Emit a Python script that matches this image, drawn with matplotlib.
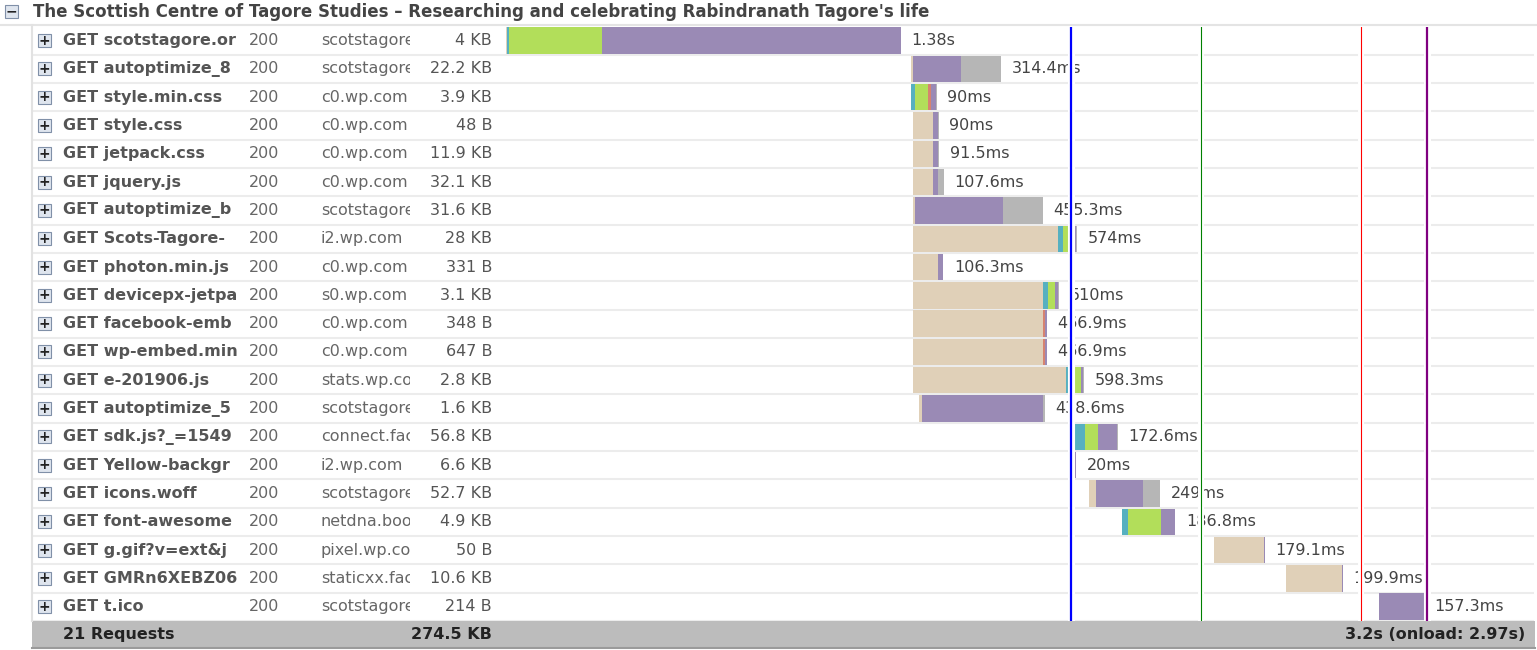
import numpy as np
import matplotlib.pyplot as plt
from matplotlib.patches import Rectangle
from matplotlib.transforms import Bbox, TransformedBbox

# --- data ---------------------------------------------------------------
title = "The Scottish Centre of Tagore Studies – Researching and celebrating Rabindranath Tagore's life"

# names and domains as far as the table columns show them
names = ["GET scotstagore.or", "GET autoptimize_8", "GET style.min.css", "GET style.css",
         "GET jetpack.css", "GET jquery.js", "GET autoptimize_b", "GET Scots-Tagore-",
         "GET photon.min.js", "GET devicepx-jetpa", "GET facebook-emb",
         "GET wp-embed.min", "GET e-201906.js", "GET autoptimize_5", "GET sdk.js?_=1549",
         "GET Yellow-backgr", "GET icons.woff", "GET font-awesome",
         "GET g.gif?v=ext&j", "GET GMRn6XEBZ06", "GET t.ico"]
statuses = ["200"] * 21
domains = ["scotstagore", "scotstagore", "c0.wp.com", "c0.wp.com", "c0.wp.com",
           "c0.wp.com", "scotstagore", "i2.wp.com", "c0.wp.com", "s0.wp.com",
           "c0.wp.com", "c0.wp.com", "stats.wp.com", "scotstagore",
           "connect.fac", "i2.wp.com", "scotstagore",
           "netdna.boot", "pixel.wp.com", "staticxx.fac",
           "scotstagore"]
sizes = ["4 KB", "22.2 KB", "3.9 KB", "48 B", "11.9 KB", "32.1 KB", "31.6 KB", "28 KB",
         "331 B", "3.1 KB", "348 B", "647 B", "2.8 KB", "1.6 KB", "56.8 KB", "6.6 KB",
         "52.7 KB", "4.9 KB", "50 B", "10.6 KB", "214 B"]
totals = ["1.38s", "314.4ms", "90ms", "90ms", "91.5ms", "107.6ms", "455.3ms", "574ms",
          "106.3ms", "510ms", "466.9ms", "466.9ms", "598.3ms", "438.6ms", "172.6ms",
          "20ms", "249ms", "186.8ms", "179.1ms", "199.9ms", "157.3ms"]

# timings in ms
start_ms = [0, 1416, 1415, 1422, 1422, 1422, 1422, 1422, 1422, 1422, 1422, 1422, 1422,
            1443, 1988, 1988, 2037, 2152, 2474, 2725, 3050]
blocked = [3, 5, 0, 70, 70, 70, 6, 507, 87, 454, 454, 454, 535, 10, 0, 0, 24, 0, 176, 196, 0]
dns = [7, 0, 14, 0, 0, 0, 0, 17, 0, 17, 0, 0, 19, 0, 35, 0, 0, 20, 0, 0, 0]
connect = [325, 0, 45, 0, 0, 0, 0, 40, 0, 24, 0, 0, 33, 0, 45, 0, 0, 115, 0, 0, 0]
send = [0, 0, 10, 0, 0, 0, 0, 0, 0, 0, 6, 6, 0, 0, 0, 0, 0, 0, 0, 0, 0]
wait = [1045, 168, 17, 18, 19, 19, 307, 7, 19.3, 10, 6.9, 6.9, 7, 423, 66, 4, 163, 52, 3, 4, 157.3]
receive = [0, 141.4, 4, 2, 2.5, 18.6, 142.3, 3, 0, 5, 0, 0, 4, 5.6, 3, 0, 62, 0, 0, 0, 0]

# page events (ms)
event_ms = [1974, 2428, 2987, 3218]
event_colors = ["#0000ff", "#008000", "#ff0000", "#800080"]
event_widths = [1.6, 0.8, 0.8, 1.6]

footer_left = "21 Requests"
footer_size = "274.5 KB"
footer_right = "3.2s (onload: 2.97s)"

# --- figure -------------------------------------------------------------
W, H = 1537, 650
fig = plt.figure(figsize=(W / 100, H / 100), dpi=100)
fig.patch.set_facecolor("white")

ax = fig.add_axes([0, 0, 1, 1])
ax.set_xlim(0, W)
ax.set_ylim(H, 0)
ax.axis("off")

row_top = 26.5
row_h = 28.3
n = len(names)
rows_bottom = row_top + n * row_h
fs = 11.5

# title row
ax.add_patch(Rectangle((5, 5), 13, 13, facecolor="#dfe5ee", edgecolor="#8090a8", lw=0.8))
ax.text(11.5, 11.5, "−", ha="center", va="center", fontsize=10, fontweight="bold", color="#222")
ax.text(33, 12, title, ha="left", va="center", fontsize=12, fontweight="bold", color="#444")
ax.plot([0, W], [25, 25], color="#e4e4e4", lw=1.5)

# left border
ax.plot([32, 32], [25, rows_bottom], color="#e2e2e2", lw=1.5)


def clip_to(txt, xa, xb):
    # cut text at the column edge like the html table does
    txt.set_clip_box(TransformedBbox(Bbox([[xa, 0], [xb, H]]), ax.transData))
    txt.set_clip_on(True)


for i in range(n):
    yc = row_top + (i + 0.5) * row_h
    ax.plot([33, 1533], [row_top + (i + 1) * row_h, row_top + (i + 1) * row_h],
            color="#ececec", lw=1.5, zorder=1)
    ax.add_patch(Rectangle((38, yc - 6.5), 13, 13, facecolor="#dfe5ee",
                           edgecolor="#8090a8", lw=0.8))
    ax.text(44.5, yc, "+", ha="center", va="center", fontsize=10, fontweight="bold", color="#222")
    t = ax.text(63, yc, names[i], ha="left", va="center", fontsize=fs,
                fontweight="bold", color="#555")
    clip_to(t, 60, 238)
    ax.text(249, yc, statuses[i], ha="left", va="center", fontsize=fs, color="#666")
    t = ax.text(321, yc, domains[i], ha="left", va="center", fontsize=fs, color="#666")
    clip_to(t, 318, 410)
    ax.text(492, yc, sizes[i], ha="right", va="center", fontsize=fs, color="#555")

# footer
ax.add_patch(Rectangle((32, rows_bottom), 1503, 648 - rows_bottom, facecolor="#bcbcbc",
                       edgecolor="none"))
ax.plot([32, 1535], [648, 648], color="#9a9a9a", lw=1.5)
fy = (rows_bottom + 648) / 2
ax.text(63, fy, footer_left, ha="left", va="center", fontsize=fs, fontweight="bold", color="#222")
ax.text(492, fy, footer_size, ha="right", va="center", fontsize=fs, fontweight="bold", color="#222")
ax.text(1525, fy, footer_right, ha="right", va="center", fontsize=fs, fontweight="bold", color="#222")

# --- timeline -----------------------------------------------------------
px_per_ms = 0.2862
x0, x1 = 506, 1533
tl = fig.add_axes([x0 / W, 1 - rows_bottom / H, (x1 - x0) / W, (rows_bottom - row_top) / H])
tl.set_xlim(0, (x1 - x0) / px_per_ms)
tl.set_ylim(n, 0)
tl.axis("off")
tl.patch.set_alpha(0)

phases = [blocked, dns, connect, send, wait, receive]
phase_colors = ["#e0d0b8", "#56b0c0", "#b2de5a", "#d68370", "#9a8ab5", "#b6b6b6"]

ypos = np.arange(n) + 0.5
left = np.array(start_ms, dtype=float)
for vals, col in zip(phases, phase_colors):
    vals = np.array(vals, dtype=float)
    tl.barh(ypos, vals, left=left, height=0.93, color=col, edgecolor="none", zorder=2)
    left = left + vals

for i in range(n):
    tl.annotate(totals[i], xy=(left[i], ypos[i]), xytext=(7.5, 0), textcoords="offset points",
                ha="left", va="center", fontsize=fs, color="#444", zorder=3)

for t_ms, col, lw in zip(event_ms, event_colors, event_widths):
    tl.axvline(t_ms, color="white", lw=lw + 3.5, zorder=4)
    tl.axvline(t_ms, color=col, lw=lw, zorder=5)

plt.savefig("out.png", dpi=100)
